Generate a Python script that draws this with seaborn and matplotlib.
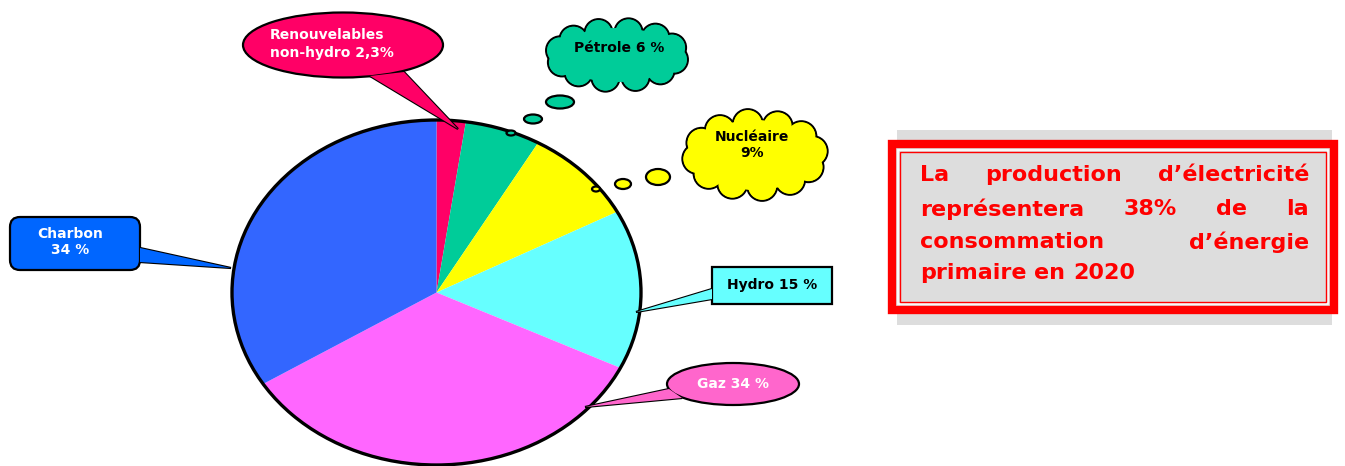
import numpy as np
import matplotlib
matplotlib.use("Agg")
import matplotlib.pyplot as plt
import seaborn as sns
from matplotlib.patches import Circle, Ellipse, Polygon, Rectangle, FancyBboxPatch

# ---- data ----
sources = ["Renouvelables non-hydro", "Pétrole", "Nucléaire", "Hydro", "Gaz", "Charbon"]
shares = [2.3, 6, 9, 15, 34, 34]
slice_colors = ["#FF0066", "#00CC99", "#FFFF00", "#66FFFF", "#FF66FF", "#3366FF"]
callout_texts = ["Renouvelables\nnon-hydro 2,3%", "Pétrole 6 %", "Nucléaire\n9%",
                 "Hydro 15 %", "Gaz 34 %", "Charbon\n34 %"]
note_lines = ["La production d’électricité", "représentera 38% de la",
              "consommation d’énergie", "primaire en 2020"]

sns.set_theme(style="white")
plt.rcParams['font.family'] = ['DejaVu Sans']

W, H = 1345, 466
fig = plt.figure(figsize=(W / 100, H / 100), dpi=100)
fig.patch.set_facecolor("white")

def fx(x): return x / W
def fy(y): return 1 - y / H

# ---- pie (elliptical) ----
pl, pr, pt, pb = 232, 641, 120, 465
pax = fig.add_axes([fx(pl), fy(pb), (pr - pl) / W, (pb - pt) / H], zorder=1)
pax.pie(shares, colors=slice_colors, startangle=90, counterclock=False,
        wedgeprops=dict(linewidth=0))
pax.set_aspect('auto')
pax.set_xlim(-1, 1); pax.set_ylim(-1, 1)
pax.add_patch(Circle((0, 0), 1, fill=False, ec="black", lw=2.4, clip_on=False, zorder=5))
pax.axis("off")

# ---- overlay axes in pixel coordinates ----
ax = fig.add_axes([0, 0, 1, 1], zorder=2)
ax.set_xlim(0, W); ax.set_ylim(H, 0)
ax.axis("off")
ax.patch.set_alpha(0)

LW = 1.6
FS = 10

def tail(pts, color):
    ax.add_patch(Polygon(pts, closed=True, fc=color, ec="black", lw=LW, zorder=1))
    ax.add_patch(Polygon(pts, closed=True, fc=color, ec="none", zorder=3))

def cloud(cx, cy, rx, ry, puff, n, color, rot=0.2):
    ang = np.linspace(0, 2 * np.pi, n, endpoint=False) + rot
    for a in ang:
        px, py = cx + rx * np.cos(a), cy + ry * np.sin(a)
        ax.add_patch(Circle((px, py), puff, fc=color, ec="black", lw=LW, zorder=1))
        ax.add_patch(Circle((px, py), puff - 0.9, fc=color, ec="none", zorder=2))
    ax.add_patch(Ellipse((cx, cy), 2 * rx + 8, 2 * ry + 8, fc=color, ec="none", zorder=2))

def bubble(cx, cy, w, h, color):
    ax.add_patch(Ellipse((cx, cy), w, h, fc=color, ec="black", lw=LW, zorder=2))

# Renouvelables
ax.add_patch(Ellipse((343, 45), 200, 65, fc="#FF0066", ec="black", lw=LW, zorder=2))
tail([(404, 72), (370, 76), (458, 129)], "#FF0066")
ax.text(270, 44, callout_texts[0], color="white", fontsize=FS, fontweight="bold",
        ha="left", va="center", linespacing=1.3, zorder=4)

# Pétrole cloud
cloud(617, 55, 58, 23, 14, 12, "#00CC99")
bubble(560, 102, 28, 13, "#00CC99")
bubble(533, 119, 18, 9, "#00CC99")
bubble(511, 133, 9, 5, "#00CC99")
ax.text(619, 48, callout_texts[1], color="black", fontsize=FS, fontweight="bold",
        ha="center", va="center", zorder=4)

# Nucléaire cloud
cloud(755, 155, 58, 31, 15, 12, "#FFFF00", rot=0.4)
bubble(658, 177, 24, 16, "#FFFF00")
bubble(623, 184, 16, 10, "#FFFF00")
bubble(596, 189, 8, 5, "#FFFF00")
ax.text(752, 145, callout_texts[2], color="black", fontsize=FS, fontweight="bold",
        ha="center", va="center", linespacing=1.25, zorder=4)

# Hydro box
ax.add_patch(Rectangle((712, 267), 120, 37, fc="#66FFFF", ec="black", lw=LW, zorder=2))
tail([(712, 289), (712, 299), (636, 312)], "#66FFFF")
ax.text(772, 285, callout_texts[3], color="black", fontsize=FS, fontweight="bold",
        ha="center", va="center", zorder=4)

# Gaz ellipse
ax.add_patch(Ellipse((733, 384), 132, 42, fc="#FF66CC", ec="black", lw=LW, zorder=2))
tail([(669, 389), (682, 398), (585, 407)], "#FF66CC")
ax.text(733, 384, callout_texts[4], color="white", fontsize=FS, fontweight="bold",
        ha="center", va="center", zorder=4)

# Charbon rounded box
ax.add_patch(FancyBboxPatch((10, 217), 130, 53, boxstyle="round,pad=0,rounding_size=10",
                            fc="#0066FF", ec="black", lw=LW, zorder=2))
tail([(140, 248), (140, 262), (231, 268)], "#0066FF")
ax.text(70, 242, callout_texts[5], color="white", fontsize=FS, fontweight="bold",
        ha="center", va="center", linespacing=1.2, zorder=4)

# ---- note box ----
ax.add_patch(Rectangle((897, 130), 435, 195, fc="#DDDDDD", ec="none", zorder=1))
ax.add_patch(Rectangle((892, 144), 442, 166, fc="#DDDDDD", ec="#FF0000", lw=6, zorder=2))
ax.add_patch(Rectangle((898, 150), 430, 154, fc="none", ec="white", lw=1.2, zorder=3))
ax.add_patch(Rectangle((900, 152), 426, 150, fc="none", ec="#FF0000", lw=1.0, zorder=3))

x_left, x_right = 920, 1309
line_y = [175, 209, 242, 273]
fig.canvas.draw()
renderer = fig.canvas.get_renderer()
inv = ax.transData.inverted()
for i, (line, y) in enumerate(zip(note_lines, line_y)):
    words = line.split(" ")
    objs = [ax.text(0, y, w, color="#FF0000", fontsize=16, fontweight="bold",
                    ha="left", va="center", zorder=4) for w in words]
    widths = []
    for o in objs:
        bb = o.get_window_extent(renderer)
        (x0, _), (x1, _) = inv.transform([(bb.x0, bb.y0), (bb.x1, bb.y1)])
        widths.append(x1 - x0)
    if i < len(note_lines) - 1 and len(words) > 1:
        gap = (x_right - x_left - sum(widths)) / (len(words) - 1)
    else:
        sp = ax.text(0, 0, "a a", fontsize=16, fontweight="bold")
        spa = ax.text(0, 0, "aa", fontsize=16, fontweight="bold")
        gap = (sp.get_window_extent(renderer).width - spa.get_window_extent(renderer).width)
        sp.remove(); spa.remove()
    x = x_left
    for o, w in zip(objs, widths):
        o.set_x(x)
        x += w + gap

fig.savefig("out.png", dpi=100, facecolor="white")
